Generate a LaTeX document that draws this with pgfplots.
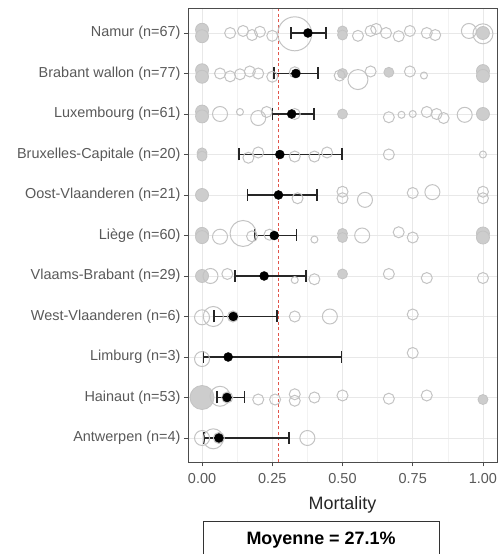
\documentclass[border=0pt]{standalone}
\usepackage{pgfplots}
\pgfplotsset{compat=1.18}
\usepackage{fontspec}
\setmainfont{Liberation Sans}
\definecolor{meanred}{RGB}{225,85,75}
\definecolor{circ}{RGB}{195,195,195}
\definecolor{circfill}{RGB}{205,205,205}
\begin{document}
\begin{tikzpicture}
\begin{axis}[
  at={(188bp,91.7bp)}, anchor=south west,
  scale only axis, width=309bp, height=453.6bp,
  xmin=-0.05, xmax=1.05, ymin=0.4, ymax=11.6,
  xtick={0,0.25,0.5,0.75,1}, xticklabels={0.00,0.25,0.50,0.75,1.00},
  minor xtick={0.125,0.375,0.625,0.875},
  ytick={1,...,11},
  yticklabels={Antwerpen (n=4),Hainaut (n=53),Limburg (n=3),West-Vlaanderen (n=6),Vlaams-Brabant (n=29),Liège (n=60),Oost-Vlaanderen (n=21),Bruxelles-Capitale (n=20),Luxembourg (n=61),Brabant wallon (n=77),Namur (n=67)},
  tick align=outside, tick pos=left,
  major tick length=4bp, minor tick length=0pt,
  tick style={black!70, line width=0.8bp},
  grid=both,
  major grid style={black!9, line width=0.9bp},
  minor grid style={black!5, line width=0.5bp},
  axis line style={black!70, line width=1bp},
  tick label style={font=\fontsize{14.5}{16}\selectfont, text=black!65},
  xticklabel style={yshift=-4bp},
  /pgf/number format/assume math mode=true,
  xlabel={Mortality},
  xlabel style={font=\fontsize{18}{20}\selectfont, text=black!85, at={(axis description cs:0.5,0)}, anchor=base, yshift=-47bp},
  clip=true,
]
% grey individual points: filled clusters
\addplot[only marks, mark=*, mark size=6.5bp, mark options={draw=circ, fill=circfill, line width=0.8bp}] coordinates {
(0,11.08) (0,10.92) (0,10.08) (0,9.92) (0,9.06) (0,8.94) (0,7.0) (0,6.04) (0,5.96) (0,5.0)
(1,11.0) (1,10.06) (1,9.94) (1,9.0) (1,6.05) (1,5.95)
};
\addplot[only marks, mark=*, mark size=5bp, mark options={draw=circ, fill=circfill, line width=0.8bp}] coordinates {
(0,8.04) (0,7.96) (0.5,11.05) (0.5,10.95) (0.5,10.0) (0.5,9.0) (0.5,6.05) (0.5,5.95) (0.5,5.05)
(0.665,10.03) (1,1.95)
};
\addplot[only marks, mark=*, mark size=12bp, mark options={draw=circ, fill=circfill, line width=0.8bp}] coordinates {
(0,2.0)
};
% open circles small
\addplot[only marks, mark=o, mark size=3.5bp, mark options={draw=circ, line width=1bp}] coordinates {
(0.135,9.05) (0.75,9.0) (0.79,9.95) (1,8.0) (0.4,5.9) (0.33,4.9) (0.71,8.98)
};
% open circles medium
\addplot[only marks, mark=o, mark size=5.5bp, mark options={draw=circ, line width=1bp}] coordinates {
(0.10,11.0) (0.146,11.05) (0.178,10.95) (0.206,11.03) (0.25,10.93) (0.555,10.93) (0.6,11.05) (0.62,11.1) (0.655,11.0) (0.70,10.92) (0.74,11.05) (0.8,11.0) (0.83,10.95)
(0.064,10.0) (0.1,9.93) (0.135,9.98) (0.17,10.05) (0.2,10.0) (0.25,9.92) (0.33,10.03) (0.49,9.95) (0.6,10.05) (0.74,10.05)
(0.23,9.05) (0.33,9.0) (0.665,8.92) (0.8,9.05) (0.835,9.0) (0.86,8.9)
(0.165,7.92) (0.2,8.05) (0.33,7.95) (0.4,7.95) (0.445,8.05) (0.665,8.0)
(0.34,6.92) (0.5,7.08) (0.5,6.92) (0.75,7.05) (1.0,7.08) (1.0,6.92)
(0.178,5.98) (0.24,6.02) (0.7,6.08) (0.75,5.95)
(0.09,5.05) (0.4,4.92) (0.665,5.05) (0.8,4.95) (1.0,4.95)
(0.11,4.0) (0.33,4.0) (0.75,4.05)
(0.75,3.1)
(0.09,2.0) (0.2,1.95) (0.26,1.95) (0.33,2.08) (0.33,1.92) (0.4,2.0) (0.5,2.05) (0.665,1.97) (0.8,2.05)
(0.06,1.0)
};
% open circles large
\addplot[only marks, mark=o, mark size=7.5bp, mark options={draw=circ, line width=1bp}] coordinates {
(0.064,9.0) (0.2,8.9) (0.935,8.98) (0.58,6.88) (0.82,7.07) (0.064,5.97) (0.57,6.0) (0.03,5.0)
(0,3.98) (0,2.95) (0,1.0) (0.375,1.0) (0.95,11.05) (0.455,4.0)
};
% open circles extra large
\addplot[only marks, mark=o, mark size=10bp, mark options={draw=circ, line width=1bp}] coordinates {
(0.555,9.85) (0.04,4.0) (0.064,2.03) (0.04,0.98) (1,10.98)
};
\addplot[only marks, mark=o, mark size=13bp, mark options={draw=circ, line width=1bp}] coordinates {
(0.146,6.05)
};
\addplot[only marks, mark=o, mark size=17bp, mark options={draw=circ, line width=1bp}] coordinates {
(0.33,10.98)
};
% overall mean
\addplot[meanred, line width=1bp, dash pattern=on 3bp off 2.5bp] coordinates {(0.271,0.4) (0.271,11.6)};
% means with confidence intervals
\addplot[only marks, mark=*, mark size=4.5bp, mark options={black, fill=black},
  error bars/.cd, x dir=both, x explicit, error mark=|,
  error bar style={line width=1.5bp, draw=black!85},
  error mark options={mark size=6bp, line width=1.5bp, draw=black!85}]
coordinates {
(0.377,11) += (0.064,0) -= (0.060,0)
(0.334,10) += (0.079,0) -= (0.078,0)
(0.319,9) += (0.079,0) -= (0.069,0)
(0.277,8) += (0.221,0) -= (0.146,0)
(0.272,7) += (0.137,0) -= (0.110,0)
(0.257,6) += (0.079,0) -= (0.068,0)
(0.221,5) += (0.149,0) -= (0.104,0)
(0.111,4) += (0.156,0) -= (0.069,0)
(0.093,3) += (0.403,0) -= (0.088,0)
(0.089,2) += (0.062,0) -= (0.036,0)
(0.060,1) += (0.250,0) -= (0.053,0)
};
\end{axis}
\node[draw=black!80, line width=1bp, minimum width=236bp, minimum height=38bp, anchor=north, inner sep=0pt] at (321bp,33bp) {\fontsize{18}{20}\selectfont\bfseries Moyenne = 27.1\%};
\pgfresetboundingbox
\useasboundingbox (0bp,0bp) rectangle (499bp,554bp);
\end{tikzpicture}
\end{document}
